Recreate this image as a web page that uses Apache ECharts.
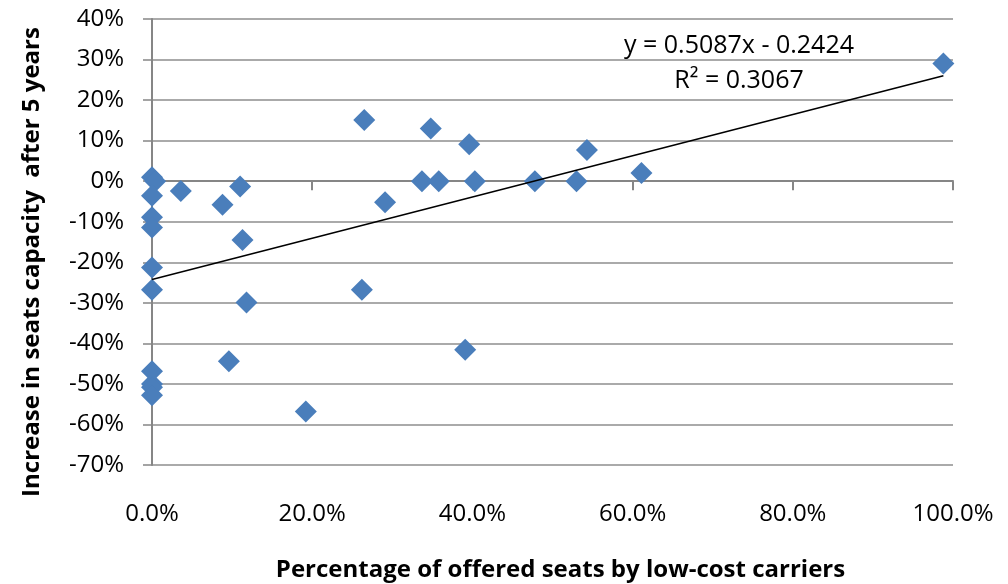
<!DOCTYPE html>
<html>
<head>
<meta charset="utf-8">
<script src="https://cdn.jsdelivr.net/npm/echarts@6/dist/echarts.min.js"></script>
<style>
html,body{margin:0;padding:0;background:#fff;}
#chart{width:1008px;height:584px;}
</style>
</head>
<body>
<div id="chart"></div>
<script>
// Percentage of offered seats by low-cost carriers (%)
const lowCostShare = [0, 0.4, 0, 3.6, 8.8, 11, 0, 0, 11.3, 0, 0, 11.8, 26.2, 9.6, 0, 0, 0, 0, 19.2, 26.5, 29.1, 33.7, 34.8, 35.8, 39.6, 40.3, 39.1, 47.8, 53, 54.3, 61.1, 98.8];
// Increase in seats capacity after 5 years (%)
const capacityIncrease = [1, 0, -3.6, -2.4, -5.8, -1.3, -8.9, -11.4, -14.5, -21.3, -26.8, -29.9, -26.8, -44.4, -46.9, -50, -50.8, -52.8, -56.8, 15.1, -5.2, 0, 13, 0, 9.1, 0, -41.6, 0, 0, 7.7, 2, 29];
// Linear trendline as reported on the chart
const trendSlope = 0.5087;
const trendIntercept = -0.2424;
const equationText = 'y = 0.5087x - 0.2424';
const r2Text = 'R\u00B2 = 0.3067';
const xTitle = 'Percentage of offered seats by low-cost carriers';
const yTitle = 'Increase in seats capacity  after 5 years';

const points = lowCostShare.map((x, i) => [x, capacityIncrease[i]]);
const xMaxData = Math.max(...lowCostShare);
const trend = [0, xMaxData].map(x => [x, (trendSlope * x / 100 + trendIntercept) * 100]);

const FONT = 'Open Sans';
const chart = echarts.init(document.getElementById('chart'));
chart.setOption({
  animation: false,
  backgroundColor: '#fff',
  grid: { left: 152, right: 55, top: 19, bottom: 119, containLabel: false, outerBoundsMode: 'none' },
  xAxis: [{
    type: 'value', min: 0, max: 100, interval: 20,
    position: 'bottom',
    axisLine: { show: false, onZero: false },
    axisTick: { show: false },
    splitLine: { show: false },
    axisLabel: { margin: 37, color: '#000', fontFamily: FONT, fontSize: 24,
      formatter: v => v.toFixed(1) + '%' },
    name: xTitle, nameLocation: 'middle', nameGap: 93,
    nameTextStyle: { fontFamily: FONT, fontWeight: 'bold', fontSize: 24, color: '#000', padding: [0, 0, 0, 16] }
  }, {
    type: 'value', min: 0, max: 100, interval: 20,
    position: 'bottom',
    axisLine: { show: true, onZero: true, lineStyle: { color: '#868686', width: 2 } },
    axisTick: { show: true, inside: false, length: 9, lineStyle: { color: '#868686', width: 2 } },
    axisLabel: { show: false },
    splitLine: { show: false }
  }],
  yAxis: {
    type: 'value', min: -70, max: 40, interval: 10,
    axisLine: { show: true, onZero: false, lineStyle: { color: '#868686', width: 2 } },
    axisTick: { show: true, length: 9, lineStyle: { color: '#868686', width: 1.5 } },
    splitLine: { show: true, lineStyle: { color: '#8e8e8e', width: 1.5 } },
    axisLabel: { margin: 28, color: '#000', fontFamily: FONT, fontSize: 24, padding: [4, 0, 0, 0],
      formatter: v => Math.round(v) + '%' },
    name: yTitle, nameLocation: 'middle', nameGap: 108, nameRotate: 90,
    nameTextStyle: { fontFamily: FONT, fontWeight: 'bold', fontSize: 24, color: '#000', padding: [0, 40, 0, 0] }
  },
  series: [{
    type: 'scatter', xAxisIndex: 0, data: points,
    symbol: 'diamond', symbolSize: 22,
    itemStyle: { color: '#4A7EBB', opacity: 1 },
    z: 3
  }, {
    type: 'line', xAxisIndex: 0, data: trend,
    showSymbol: false, symbol: 'none',
    lineStyle: { color: '#000', width: 1.5 },
    z: 5, silent: true
  }],
  graphic: [{
    type: 'text', x: 739, y: 46,
    style: { text: equationText, font: '25px "Open Sans"', fill: '#000', align: 'center', verticalAlign: 'middle' }
  }, {
    type: 'text', x: 739, y: 81,
    style: { text: r2Text, font: '25px "Open Sans"', fill: '#000', align: 'center', verticalAlign: 'middle' }
  }]
});
</script>
</body>
</html>
